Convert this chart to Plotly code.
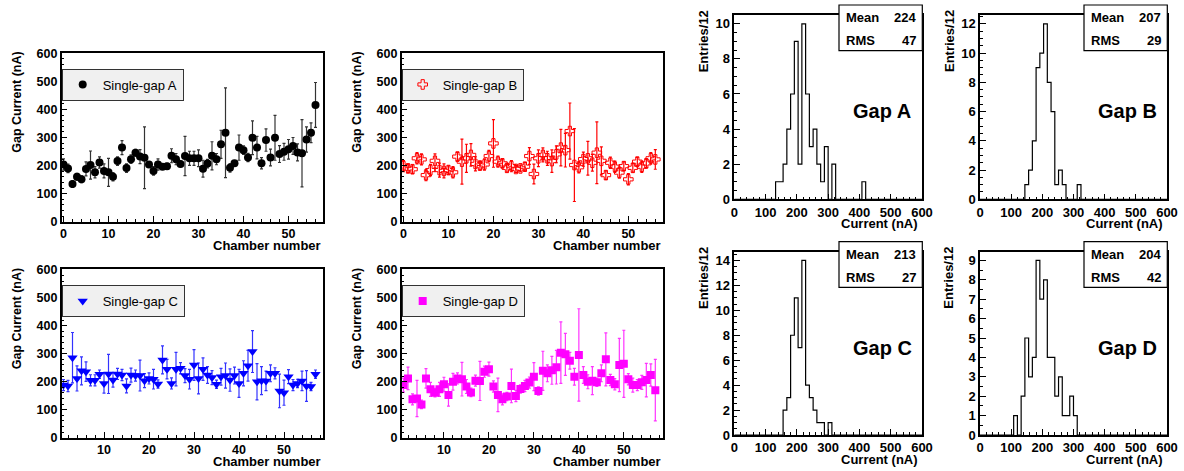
import plotly.graph_objects as go

W, H = 1184, 471
FONT = "Liberation Sans"

# chamber numbers
chambers_ab = list(range(0, 57))
chambers_cd = list(range(1, 58))

# gap currents (nA) and errors
gap_a = [204, 190, 134, 160, 151, 188, 202, 176, 211, 181, 176, 160, 216, 264, 191, 223, 246, 232, 228,
         204, 181, 204, 196, 198, 235, 223, 206, 234, 226, 226, 226, 189, 207, 235, 223, 276, 317, 192,
         208, 264, 255, 229, 299, 264, 208, 291, 229, 299, 241, 249, 258, 270, 247, 244, 293, 317, 416]
gap_a_err = [20, 15, 12, 12, 12, 25, 50, 20, 20, 25, 50, 15, 15, 25, 15, 15, 12, 25, 110,
             10, 15, 20, 10, 10, 25, 20, 10, 70, 25, 25, 30, 30, 15, 50, 20, 50, 160, 15,
             10, 45, 15, 15, 60, 40, 20, 40, 30, 80, 30, 30, 35, 30, 30, 120, 45, 35, 80]

gap_b = [198, 190, 187, 226, 222, 166, 184, 217, 184, 181, 184, 176, 232, 214, 226, 238, 206, 200, 204,
         234, 279, 214, 208, 192, 198, 188, 190, 196, 234, 170, 226, 238, 226, 216, 240, 264, 255, 323,
         202, 194, 223, 226, 210, 246, 217, 166, 210, 196, 175, 198, 151, 192, 214, 196, 208, 226, 222]
gap_b_err = [20, 15, 15, 20, 20, 20, 20, 25, 25, 25, 15, 20, 15, 80, 50, 40, 25, 15, 20,
             20, 85, 20, 15, 15, 20, 12, 12, 15, 30, 35, 30, 25, 25, 40, 30, 65, 60, 100,
             130, 20, 25, 60, 30, 110, 50, 15, 20, 20, 20, 15, 20, 15, 15, 20, 15, 20, 35]

gap_c = [188, 185, 286, 212, 239, 236, 205, 205, 227, 194, 228, 206, 228, 224, 185, 224, 222, 222, 204,
         212, 209, 192, 278, 245, 194, 245, 248, 222, 209, 260, 212, 245, 224, 215, 191, 218, 222, 206,
         222, 194, 230, 257, 308, 200, 204, 203, 230, 230, 167, 161, 218, 188, 194, 203, 185, 183, 227]
gap_c_err = [20, 20, 90, 45, 50, 35, 20, 20, 15, 35, 70, 25, 20, 20, 25, 25, 20, 55, 25,
             20, 35, 15, 50, 35, 20, 60, 20, 25, 35, 55, 55, 40, 30, 25, 15, 30, 45, 40,
             30, 50, 45, 55, 75, 65, 50, 35, 30, 20, 60, 45, 25, 20, 15, 35, 55, 15, 15]

gap_d = [188, 212, 137, 140, 119, 212, 173, 161, 173, 191, 153, 200, 212, 209, 183, 162, 204, 203, 236,
         245, 183, 153, 137, 147, 185, 149, 174, 185, 197, 218, 167, 239, 230, 241, 252, 304, 298, 275,
         218, 296, 224, 200, 204, 198, 230, 280, 206, 191, 260, 264, 209, 188, 188, 198, 206, 224, 170]
gap_d_err = [25, 40, 20, 65, 15, 35, 25, 15, 25, 25, 40, 30, 20, 60, 25, 15, 20, 70, 20,
             25, 20, 60, 20, 15, 60, 20, 15, 20, 20, 50, 15, 70, 30, 50, 60, 110, 75, 30,
             30, 165, 30, 25, 50, 15, 30, 95, 20, 20, 95, 120, 20, 25, 20, 25, 60, 40, 110]

# histograms: 12 nA bins from 0 to 600, counts from the first filled bin
bin_width = 12
hist_a_start, hist_a_counts = 132, [1, 1, 2, 4, 6, 9, 2, 10, 6, 3, 4, 2, 1, 3, 0, 2, 0, 0, 0, 0, 0, 0, 0, 1]
hist_b_start, hist_b_counts = 144, [1, 2, 4, 9, 10, 12, 8, 6, 1, 2, 1, 0, 0, 0, 1]
hist_c_start, hist_c_counts = 156, [2, 3, 8, 11, 7, 14, 4, 3, 2, 1, 1, 0, 1]
hist_d_start, hist_d_counts = 108, [1, 0, 2, 5, 3, 4, 9, 7, 8, 4, 4, 2, 3, 1, 1, 2, 1]

hist_means = [224, 207, 213, 204]
hist_rms = [47, 29, 27, 42]
gap_names = ["A", "B", "C", "D"]


def fx(x):
    return x / W


def fy(y):
    return 1 - y / H


fig = go.Figure()

scatter_boxes = [(61.7, 322.7, 52.5, 221.7), (401.7, 662.5, 52.5, 221.7),
                 (61.7, 322.7, 269, 437.7), (401.7, 662.5, 269, 437.7)]
hist_boxes = [(734.3, 922.3, 15, 199.3), (980, 1167.3, 15, 199.3),
              (734.3, 922.3, 251.7, 435), (980, 1167.3, 251.7, 435)]

series = [
    (chambers_ab, gap_a, gap_a_err, "black", "#333333", "circle", 8, 0),
    (chambers_ab, gap_b, gap_b_err, "#ff0000", "#ff0000", "cross-open", 8, 1),
    (chambers_cd, gap_c, gap_c_err, "#0000ff", "#3333ff", "triangle-down", 9, 0),
    (chambers_cd, gap_d, gap_d_err, "#ff00ff", "#ff33ff", "square", 8, 0),
]

tickfont = dict(family=FONT, size=12.5, color="black", weight="bold")
layout = {}
annotations = []
shapes = []


def note(text, x, y, xa, ya, font, angle=0):
    annotations.append(dict(text=text, x=fx(x), y=fy(y), xref="paper", yref="paper",
                            xanchor=xa, yanchor=ya, showarrow=False, textangle=angle, font=font))


for i, (xs, ys, es, col, ecol, sym, msize, lw) in enumerate(series):
    n = i + 1
    suffix = "" if n == 1 else str(n)
    leg = "legend" if n == 1 else "legend" + str(n)
    marker = dict(symbol=sym, size=msize, color=col)
    if lw:
        marker["line"] = dict(color=col, width=lw)
    fig.add_trace(go.Scatter(
        x=xs, y=ys, mode="markers", name="Single-gap " + gap_names[i],
        marker=marker,
        error_y=dict(type="data", array=es, color=ecol, thickness=1.2, width=1.5),
        xaxis="x" + suffix, yaxis="y" + suffix, legend=leg))
    x0, x1, y0, y1 = scatter_boxes[i]
    xr = [-0.4, 57.6] if i < 2 else [0.6, 58.6]
    layout["xaxis" + suffix] = dict(
        domain=[fx(x0), fx(x1)], anchor="y" + suffix, range=xr, tick0=0, dtick=10,
        ticks="inside", ticklen=6, tickcolor="black", tickfont=tickfont, automargin=False,
        minor=dict(dtick=2, ticks="inside", ticklen=3, tickcolor="black"),
        showline=True, linecolor="black", linewidth=1.5, mirror=True,
        showgrid=False, zeroline=False)
    layout["yaxis" + suffix] = dict(
        domain=[fy(y1), fy(y0)], anchor="x" + suffix, range=[0, 603], dtick=100,
        ticks="inside", ticklen=6, tickcolor="black", tickfont=tickfont, automargin=False,
        minor=dict(dtick=20, ticks="inside", ticklen=3, tickcolor="black"),
        showline=True, linecolor="black", linewidth=1.5, mirror=True,
        showgrid=False, zeroline=False)
    layout[leg] = dict(
        x=fx(x0), y=fy(y0 + 16), xanchor="left", yanchor="top",
        bgcolor="#f0f0f0", bordercolor="#333333", borderwidth=1,
        font=dict(family=FONT, size=13, color="black"), entrywidth=88)
    note("Gap Current (nA)", x0 - 45, y0 - 3, "center", "top",
         dict(family=FONT, size=12.5, color="black", weight="bold"), -90)
    note("Chamber number", x1, y1 + 24, "right", "middle",
         dict(family=FONT, size=13, color="black", weight="bold"))

hists = [(hist_a_start, hist_a_counts, 2), (hist_b_start, hist_b_counts, 2),
         (hist_c_start, hist_c_counts, 2), (hist_d_start, hist_d_counts, 1)]
nbins = 600 // bin_width
edges = [k * bin_width for k in range(nbins + 1)]
hfont = dict(family=FONT, size=13, color="black", weight="bold")

for i, (start, counts, dt) in enumerate(hists):
    n = i + 5
    suffix = str(n)
    first = start // bin_width
    full = [0] * nbins
    for k, c in enumerate(counts):
        full[first + k] = c
    fig.add_trace(go.Scatter(
        x=edges, y=full + [full[-1]], mode="lines", line_shape="hv",
        line=dict(color="black", width=1.2), showlegend=False,
        xaxis="x" + suffix, yaxis="y" + suffix))
    x0, x1, y0, y1 = hist_boxes[i]
    layout["xaxis" + suffix] = dict(
        domain=[fx(x0), fx(x1)], anchor="y" + suffix, range=[0, 601], dtick=100,
        ticks="inside", ticklen=6, tickcolor="black", tickfont=hfont, automargin=False,
        minor=dict(dtick=20, ticks="inside", ticklen=3, tickcolor="black"),
        showline=True, linecolor="black", linewidth=1.5, mirror=True,
        showgrid=False, zeroline=False)
    layout["yaxis" + suffix] = dict(
        domain=[fy(y1), fy(y0)], anchor="x" + suffix, range=[0, 1.05 * max(counts)], dtick=dt,
        ticks="inside", ticklen=6, tickcolor="black", tickfont=hfont, automargin=False,
        minor=dict(dtick=dt / 4 if dt == 2 else 0.5, ticks="inside", ticklen=3, tickcolor="black"),
        showline=True, linecolor="black", linewidth=1.5, mirror=True,
        showgrid=False, zeroline=False)
    # stats box
    shapes.append(dict(type="rect", xref="paper", yref="paper", layer="above",
                       x0=fx(x1 - 83.3), x1=fx(x1), y0=fy(y0 - 10), y1=fy(y0 + 35.7),
                       fillcolor="white", line=dict(color="black", width=1.2)))
    for row, (lab, val) in enumerate([("Mean", hist_means[i]), ("RMS", hist_rms[i])]):
        yy = y0 + 2.3 + row * 23.4
        note(lab, x1 - 78, yy, "left", "middle", hfont)
        note(str(val), x1 - 4.6, yy, "right", "middle", hfont)
    note("Gap " + gap_names[i], x1 - 40, y0 + 96, "center", "middle",
         dict(family=FONT, size=20, color="black", weight="bold"))
    note("Entries/12", x0 - 31, y0 - 7, "center", "top", hfont, -90)
    note("Current (nA)", x1 - 2, y1 + 24, "right", "middle", hfont)

fig.update_layout(
    width=W, height=H, margin=dict(l=0, r=0, t=0, b=0, autoexpand=False),
    paper_bgcolor="white", plot_bgcolor="white",
    font=dict(family=FONT, color="black"),
    annotations=annotations, shapes=shapes, **layout)

# drop the browser's default page margin so the figure sits at the window corner
fig.write_html("out.html", config={"displayModeBar": False},
               post_script="document.body.style.margin = '0';")
